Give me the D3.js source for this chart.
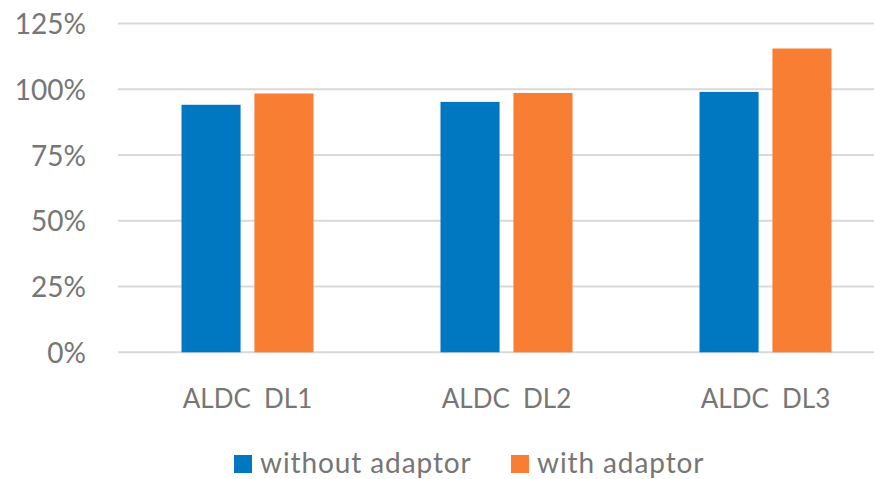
<!DOCTYPE html>
<html><head><meta charset="utf-8">
<script src="https://cdn.jsdelivr.net/npm/d3@7"></script>
<style>body{margin:0;background:#fff}svg{display:block}text{font-family:Lato,"Open Sans",sans-serif;fill:#767676}</style>
</head><body>
<svg id="c" width="874" height="479"></svg>
<script>
const categories = ["ALDC  DL1", "ALDC  DL2", "ALDC  DL3"];
const seriesNames = ["without adaptor", "with adaptor"];
const withoutAdaptor = [94.1, 95.2, 99.0];
const withAdaptor = [98.4, 98.6, 115.5];
const yTicks = [0, 25, 50, 75, 100, 125];
const colors = ["#0078C1", "#F77E33"];

const svg = d3.select("#c");
const pLeft = 118, pRight = 895, pTop = 23.5, pBottom = 352.3;
const x = d3.scaleBand().domain(categories).range([pLeft, pRight]).paddingInner(0).paddingOuter(0);
const y = d3.scaleLinear().domain([0, 125]).range([pBottom, pTop]);
const inner = d3.scaleBand().domain(seriesNames).range([63.5, x.bandwidth() - 63.5]).paddingInner(0.19);

svg.append("g").selectAll("line").data(yTicks).join("line")
  .attr("x1", pLeft).attr("x2", 874).attr("y1", d => y(d)).attr("y2", d => y(d))
  .attr("stroke", "#d9d9d9").attr("stroke-width", 2);

const yAxis = svg.append("g").attr("transform", `translate(${86},0)`)
  .call(d3.axisLeft(y).tickValues(yTicks).tickFormat(d => d + "%").tickSize(0).tickPadding(0));
yAxis.select(".domain").remove();
yAxis.selectAll("text").style("font-size", "28px").attr("fill", "#767676").attr("dy", "0.36em");

const data = seriesNames.map((s, i) => ({ s, vals: i === 0 ? withoutAdaptor : withAdaptor }));
data.forEach((ser, si) => {
  svg.append("g").selectAll("rect").data(ser.vals).join("rect")
    .attr("x", (d, i) => x(categories[i]) + inner(ser.s))
    .attr("width", inner.bandwidth())
    .attr("y", d => y(d))
    .attr("height", d => y(0) - y(d))
    .attr("fill", colors[si]);
});

const xAxis = svg.append("g").attr("transform", `translate(0,${pBottom})`)
  .call(d3.axisBottom(x).tickSize(0).tickPadding(0));
xAxis.select(".domain").remove();
xAxis.selectAll("text").style("font-size", "26px").attr("fill", "#767676")
  .attr("y", 56).attr("dy", 0).style("white-space", "pre");

const legendX = [234, 511];
const lg = svg.append("g");
seriesNames.forEach((s, i) => {
  lg.append("rect").attr("x", legendX[i]).attr("y", 455).attr("width", 18).attr("height", 18).attr("fill", colors[i]);
  lg.append("text").attr("x", legendX[i] + 26).attr("y", 473).style("font-size", "28px").style("letter-spacing", "0.9px").text(s);
});
</script>
</body></html>
